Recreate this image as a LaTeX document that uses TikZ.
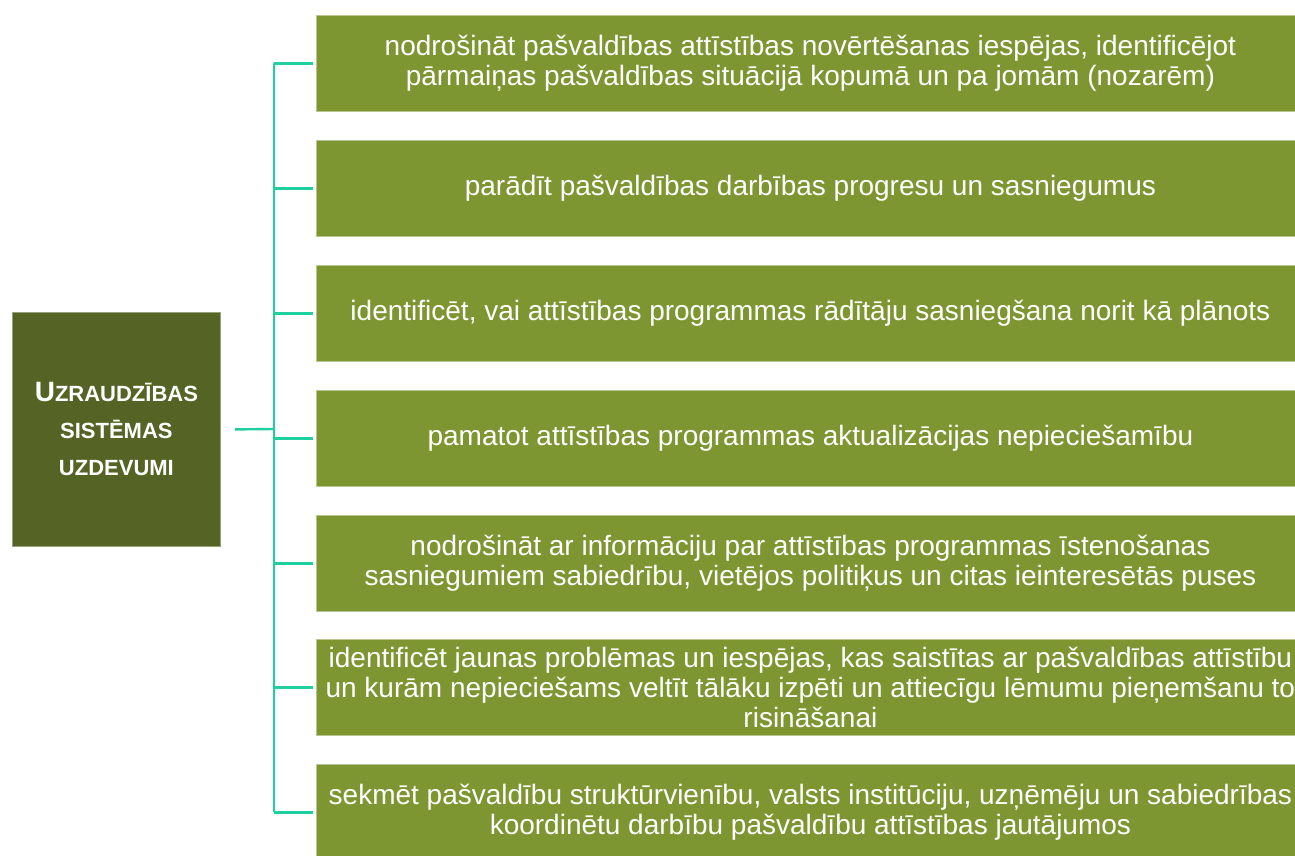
\documentclass[tikz,border=0pt]{standalone}
\usepackage{fontspec}
\setmainfont{Liberation Sans}
\begin{document}
\begin{tikzpicture}[x=1pt,y=-1pt,
  mainbox/.style={draw=main!60!white, line width=0.8pt, fill=main, text=white, minimum width=208pt, minimum height=234pt, anchor=north west, inner sep=0pt, align=center, font=\bfseries\fontsize{22}{37}\selectfont},
  taskbox/.style={draw=task!55!white, line width=0.8pt, fill=task, text=white, minimum width=988pt, minimum height=96pt, anchor=north west, inner sep=0pt, align=center, font=\fontsize{28}{30}\selectfont},
  link/.style={draw=linkc, line width=2.4pt}]
\definecolor{main}{RGB}{85,99,36}
\definecolor{task}{RGB}{126,150,50}
\definecolor{linkc}{RGB}{30,208,160}
\useasboundingbox (0,0) rectangle (1295,855);
\node[mainbox] (m) at (12,312) {{\fontsize{28}{37}\selectfont U}ZRAUDZĪBAS\\SISTĒMAS\\UZDEVUMI};
\node[taskbox] (t1) at (316,15) {nodrošināt pašvaldības attīstības novērtēšanas iespējas, identificējot\\pārmaiņas pašvaldības situācijā kopumā un pa jomām (nozarēm)};
\node[taskbox] (t2) at (316,140) {parādīt pašvaldības darbības progresu un sasniegumus};
\node[taskbox] (t3) at (316,265) {identificēt, vai attīstības programmas rādītāju sasniegšana norit kā plānots};
\node[taskbox] (t4) at (316,390) {pamatot attīstības programmas aktualizācijas nepieciešamību};
\node[taskbox] (t5) at (316,515) {nodrošināt ar informāciju par attīstības programmas īstenošanas\\sasniegumiem sabiedrību, vietējos politiķus un citas ieinteresētās puses};
\node[taskbox] (t6) at (316,639) {identificēt jaunas problēmas un iespējas, kas saistītas ar pašvaldības attīstību\\un kurām nepieciešams veltīt tālāku izpēti un attiecīgu lēmumu pieņemšanu to\\risināšanai};
\node[taskbox] (t7) at (316,764) {sekmēt pašvaldību struktūrvienību, valsts institūciju, uzņēmēju un sabiedrības\\koordinētu darbību pašvaldību attīstības jautājumos};
\coordinate (s) at ([xshift=14pt]m.east);
\coordinate (j) at (274,429);
\coordinate (top) at (274,63);
\coordinate (bot) at (274,812);
\draw[link] (s) -- (j);
\draw[link] (top) -- (bot);
\foreach \i in {1,...,7}{
  \draw[link] (top |- t\i.west) -- ([xshift=-3pt]t\i.west);
}
\end{tikzpicture}
\end{document}
